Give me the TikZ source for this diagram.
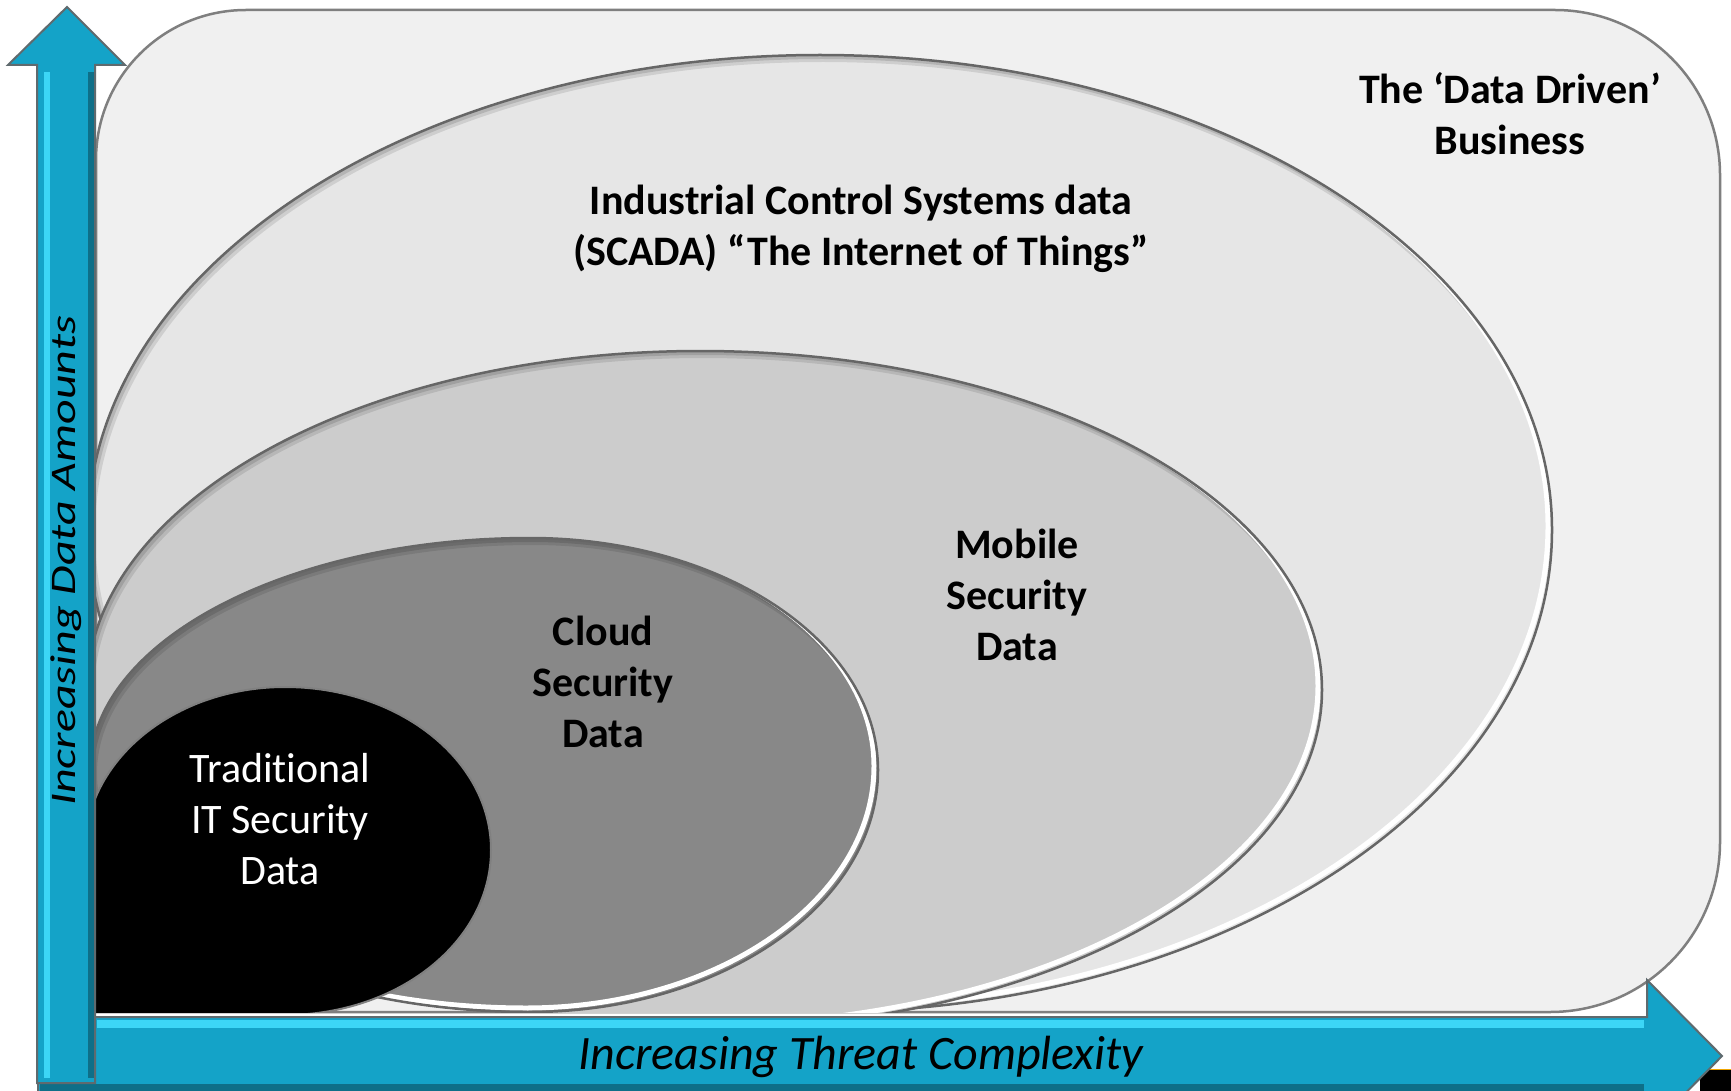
\documentclass[tikz,border=0pt]{standalone}
\usepackage{fontspec}
\setmainfont{Carlito}[Ligatures=NoCommon]
\definecolor{panelfill}{HTML}{F0F0F0}
\definecolor{paneledge}{HTML}{7F7F7F}
\definecolor{icsfill}{HTML}{E6E6E6}
\definecolor{mobfill}{HTML}{CCCCCC}
\definecolor{cloudfill}{HTML}{888888}
\definecolor{shapeedge}{HTML}{666666}
\definecolor{arrowbase}{HTML}{14A3C8}
\definecolor{arrowlight}{HTML}{3CD6F6}
\definecolor{arrowdark}{HTML}{0E6F88}
\definecolor{arrowedge}{HTML}{5F6A6E}
\definecolor{cropline}{HTML}{F0A500}
\tikzset{
  egg/.style n args={6}{insert path={(#1-#3,#2) .. controls (#1-#3,#2-0.5523*#5) and (#1-0.5523*#3,#2-#5) .. (#1,#2-#5) .. controls (#1+0.5523*#4,#2-#5) and (#1+#4,#2-0.5523*#5) .. (#1+#4,#2) .. controls (#1+#4,#2+0.5523*#6) and (#1+0.5523*#4,#2+#6) .. (#1,#2+#6) .. controls (#1-0.5523*#3,#2+#6) and (#1-#3,#2+0.5523*#6) .. (#1-#3,#2) -- cycle}},
  boldlbl/.style={font=\fontsize{42}{51}\selectfont\bfseries, align=center, inner sep=0pt, text=black},
  plainlbl/.style={font=\fontsize{42}{51}\selectfont, align=center, inner sep=0pt, text=white},
  axislbl/.style={font=\fontsize{48}{58}\selectfont\itshape, inner sep=0pt, text=black},
  shapeline/.style={draw=shapeedge, line width=2.5pt},
  hilite/.style={draw=white, line width=5pt, shift={(-4,-4)}},
  inshadowA/.style={draw=black, draw opacity=0.10, line width=8pt, shift={(3,3)}},
  inshadowB/.style={draw=black, draw opacity=0.12, line width=4pt, shift={(2,2)}},
  arrowbody/.style={fill=arrowbase, draw=arrowedge, line width=2pt, line join=miter}
}
\begin{document}
\begin{tikzpicture}[x=1pt,y=-1pt]
\useasboundingbox (0,0) rectangle (1731,1091);
\fill[white] (0,0) rectangle (1731,1091);

% background panel
\path[fill=panelfill, draw=paneledge, line width=2.5pt] (96,1012) -- (96,160) .. controls (96,77) and (163,10) .. (246,10) -- (1555,10) .. controls (1646,10) and (1720,84) .. (1720,175) -- (1720,842) .. controls (1720,936) and (1644,1012) .. (1550,1012) -- cycle;

\begin{scope}
\clip (96,0) rectangle (1720,1012);
% ICS
\fill[icsfill, egg={820}{530}{732}{732}{475}{482}];
\begin{scope}\clip[egg={820}{530}{732}{732}{475}{482}];
 \path[inshadowA, egg={820}{530}{732}{732}{475}{482}];
 \path[inshadowB, egg={820}{530}{732}{732}{475}{482}];
 \path[hilite, egg={820}{530}{732}{732}{475}{482}]; \end{scope}
\path[shapeline, egg={820}{530}{732}{732}{475}{482}];
% Mobile
\fill[mobfill, egg={700}{690}{613}{622}{339}{339}];
\begin{scope}\clip[egg={700}{690}{613}{622}{339}{339}];
 \path[inshadowA, egg={700}{690}{613}{622}{339}{339}];
 \path[inshadowB, egg={700}{690}{613}{622}{339}{339}];
 \path[hilite, egg={700}{690}{613}{622}{339}{339}]; \end{scope}
\path[shapeline, egg={700}{690}{613}{622}{339}{339}];
% Cloud
\fill[cloudfill, egg={530}{770}{440}{348}{232}{242}];
\begin{scope}\clip[egg={530}{770}{440}{348}{232}{242}];
 \path[inshadowA, egg={530}{770}{440}{348}{232}{242}];
 \path[inshadowB, egg={530}{770}{440}{348}{232}{242}];
 \path[hilite, egg={530}{770}{440}{348}{232}{242}]; \end{scope}
\path[shapeline, egg={530}{770}{440}{348}{232}{242}];
% Traditional
\fill[black, egg={285}{850}{200}{206}{163}{165}];
\path[draw=gray, line width=2pt, egg={285}{850}{200}{206}{163}{165}];
\fill[black] (90,850) rectangle (290,1015);
\end{scope}

% crop artefact bottom right
\fill[black] (1700,1070) rectangle (1731,1091);
\draw[cropline, line width=1.5pt] (1700,1069.5) -- (1731,1069.5);

% horizontal arrow
\begin{scope}
\clip (0,0) rectangle (1731,1091);
\path[arrowbody] (38,1017) -- (1647,1017) -- (1647,980) -- (1722,1056) -- (1647,1132) -- (1647,1095) -- (38,1095) -- cycle;
\fill[arrowlight] (97,1020) rectangle (1644,1028);
\fill[arrowdark] (40,1084) rectangle (1644,1095);
\end{scope}

% vertical arrow
\path[arrowbody] (37,1083) -- (37,65) -- (8,65) -- (67,7) -- (125,65) -- (95,65) -- (95,1083) -- cycle;
\fill[arrowlight] (44,72) rectangle (50,1078);
\fill[arrowdark] (88,72) rectangle (94,1078);

% labels
\node[boldlbl] (ddb) at (1510,114) {The ‘Data Driven’\\Business};
\node[boldlbl] (ics) at (861,229) {Industrial Control Systems data\\(SCADA) “The Internet of Things”};
\node[boldlbl] (mob) at (1017,595) {Mobile\\Security\\Data};
\node[boldlbl] (cld) at (603,682) {Cloud\\Security\\Data};
\node[plainlbl] (trd) at (280,819) {Traditional\\IT Security\\Data};
\node[axislbl] (xlab) at (861,1057) {Increasing Threat Complexity};
\node[axislbl, rotate=90] (ylab) at (66,561) {\scalebox{1}[0.75]{Increasing Data Amounts}};
\end{tikzpicture}
\end{document}
